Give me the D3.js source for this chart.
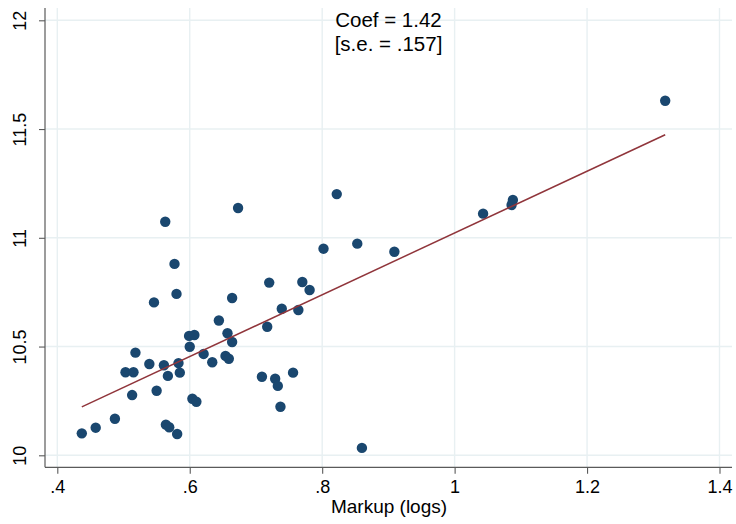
<!DOCTYPE html>
<html>
<head>
<meta charset="utf-8">
<script src="https://cdn.jsdelivr.net/npm/d3@7"></script>
<style>
  html, body { margin: 0; padding: 0; background: #fff; }
  svg { display: block; font-family: Arial, "Liberation Sans", Helvetica, sans-serif; }
</style>
</head>
<body>
<svg id="chart" width="736" height="524"></svg>
<script>
// Markup (logs) for each observation
const markup = [
  0.437, 0.458, 0.487, 0.503, 0.515, 0.513, 0.518, 0.539, 0.546, 0.550,
  0.561, 0.563, 0.564, 0.569, 0.567, 0.581, 0.577, 0.580, 0.583, 0.585,
  0.599, 0.600, 0.607, 0.604, 0.610, 0.621, 0.634, 0.644, 0.657, 0.654,
  0.659, 0.664, 0.664, 0.673, 0.709, 0.717, 0.720, 0.729, 0.733, 0.737,
  0.739, 0.756, 0.764, 0.770, 0.781, 0.802, 0.822, 0.853, 0.860, 0.909,
  1.043, 1.088, 1.086, 1.318
];
// Outcome (logs) for each observation
const outcome = [
  10.101, 10.127, 10.168, 10.382, 10.382, 10.277, 10.472, 10.420, 10.703, 10.297,
  10.414, 11.074, 10.141, 10.129, 10.365, 10.098, 10.880, 10.742, 10.424, 10.380,
  10.549, 10.499, 10.553, 10.260, 10.246, 10.466, 10.428, 10.620, 10.561, 10.457,
  10.444, 10.521, 10.723, 11.137, 10.361, 10.591, 10.794, 10.352, 10.319, 10.223,
  10.674, 10.380, 10.668, 10.797, 10.760, 10.950, 11.201, 10.973, 10.034, 10.936,
  11.111, 11.174, 11.151, 11.630
];
// Regression slope and its standard error
const coef = 1.42;
const stdErr = 0.157;
const noteLines = ["Coef = 1.42", "[s.e. = .157]"];

const xTicks = [0.4, 0.6, 0.8, 1.0, 1.2, 1.4];
const xTickLabels = [".4", ".6", ".8", "1", "1.2", "1.4"];
const yTicks = [10, 10.5, 11, 11.5, 12];
const yTickLabels = ["10", "10.5", "11", "11.5", "12"];
const xTitle = "Markup (logs)";

const svg = d3.select("#chart");
const W = 736, H = 524;
const plot = { left: 45, right: 732, top: 8, bottom: 467.3 };

const x = d3.scaleLinear().domain([0.4, 1.4]).range([57.3, 719.5]);
const y = d3.scaleLinear().domain([10, 12]).range([455.3, 20.3]);

const gridColor = "#e8f0f2";
const axisColor = "#5a5a5a";

// Grid lines
svg.append("g").selectAll("line.hg").data(yTicks).join("line")
  .attr("x1", plot.left).attr("x2", plot.right)
  .attr("y1", d => y(d)).attr("y2", d => y(d))
  .attr("stroke", gridColor).attr("stroke-width", 1.4);
svg.append("g").selectAll("line.vg").data(xTicks).join("line")
  .attr("x1", d => x(d)).attr("x2", d => x(d))
  .attr("y1", plot.top).attr("y2", plot.bottom)
  .attr("stroke", gridColor).attr("stroke-width", 1.4);

// Axes
const xAxis = d3.axisBottom(x).tickValues(xTicks)
  .tickFormat((d, i) => xTickLabels[i]).tickSize(6.5).tickPadding(6);
const gx = svg.append("g").attr("transform", `translate(0,${plot.bottom})`).call(xAxis);
gx.select(".domain").remove();
gx.selectAll(".tick line").attr("stroke", axisColor).attr("stroke-width", 1.1);
gx.selectAll(".tick text").attr("fill", "#000").attr("font-size", 18)
  .attr("font-family", "Arial, 'Liberation Sans', sans-serif");
gx.append("line").attr("x1", plot.left).attr("x2", plot.right)
  .attr("y1", 0).attr("y2", 0).attr("stroke", axisColor).attr("stroke-width", 1.2);

const yAxis = d3.axisLeft(y).tickValues(yTicks)
  .tickFormat((d, i) => yTickLabels[i]).tickSize(6).tickPadding(6);
const gy = svg.append("g").attr("transform", `translate(${plot.left},0)`).call(yAxis);
gy.select(".domain").remove();
gy.selectAll(".tick line").attr("stroke", axisColor).attr("stroke-width", 1.1);
gy.selectAll(".tick text")
  .attr("fill", "#000").attr("font-size", 18)
  .attr("font-family", "Arial, 'Liberation Sans', sans-serif")
  .attr("x", null).attr("dy", null)
  .attr("text-anchor", "middle")
  .attr("transform", "translate(-19.5,0) rotate(-90)");
gy.append("line").attr("x1", 0).attr("x2", 0)
  .attr("y1", plot.top).attr("y2", plot.bottom)
  .attr("stroke", axisColor).attr("stroke-width", 1.2);

// Scatter points
const pts = markup.map((m, i) => ({ m, v: outcome[i] }));
svg.append("g").selectAll("circle").data(pts).join("circle")
  .attr("cx", d => x(d.m)).attr("cy", d => y(d.v))
  .attr("r", 5.2).attr("fill", "#1a476f");

// Fitted line: slope from coef, passing through the sample means
const mx = d3.mean(markup), my = d3.mean(outcome);
const intercept = my - coef * mx;
const [x0, x1] = d3.extent(markup);
svg.append("line")
  .attr("x1", x(x0)).attr("y1", y(intercept + coef * x0))
  .attr("x2", x(x1)).attr("y2", y(intercept + coef * x1))
  .attr("stroke", "#90353b").attr("stroke-width", 1.5);

// Coefficient note
const note = svg.append("text").attr("x", 388.5).attr("y", 27.3)
  .attr("text-anchor", "middle").attr("font-size", 20.5).attr("fill", "#000");
noteLines.forEach((t, i) => note.append("tspan").attr("x", 388.5).attr("dy", i ? 24 : 0).text(t));

// Axis title
svg.append("text").attr("x", (plot.left + plot.right) / 2 + 0.5).attr("y", 513.3)
  .attr("text-anchor", "middle").attr("font-size", 19).attr("fill", "#000")
  .text(xTitle);
</script>
</body>
</html>
